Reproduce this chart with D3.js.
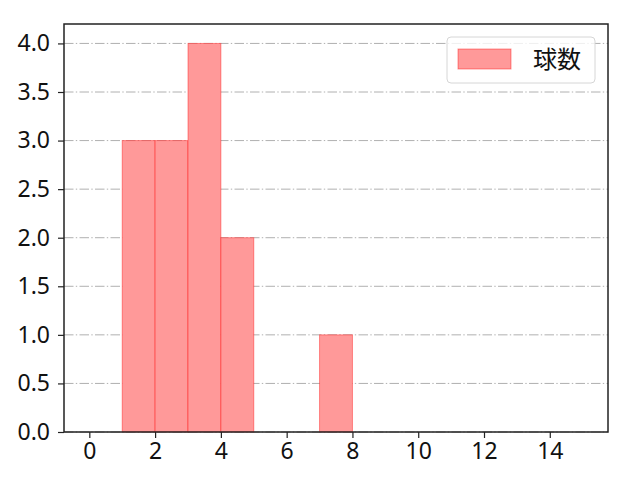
<!DOCTYPE html>
<html>
<head>
<meta charset="utf-8">
<script src="https://cdn.jsdelivr.net/npm/d3@7"></script>
<style>
  body { margin: 0; background: #fff; }
</style>
</head>
<body>
<div class="canvas"></div>
<script>
// histogram bins (left edge) and their counts
const binStarts = [1, 2, 3, 4, 7];
const counts = [3, 3, 4, 2, 1];
const binWidth = 1;
const xTicks = [0, 2, 4, 6, 8, 10, 12, 14];
const yTicks = [0, 0.5, 1.0, 1.5, 2.0, 2.5, 3.0, 3.5, 4.0];
const seriesName = '球数';

const data = binStarts.map((b, i) => ({ x0: b, x1: b + binWidth, count: counts[i] }));

const tickFont = '"Noto Sans", "DejaVu Sans", sans-serif';
const cjkFont = '"Noto Sans CJK JP", "Noto Sans", sans-serif';

const svg = d3.select('.canvas')
    .append('svg')
    .attr('width', 640)
    .attr('height', 480);

// plot area
const margins = { top: 24, right: 32, bottom: 48, left: 64 };
const graphWidth = 640 - margins.left - margins.right;
const graphHeight = 480 - margins.top - margins.bottom;

const graph = svg.append('g')
    .attr('transform', `translate(${margins.left}, ${margins.top})`);

const x = d3.scaleLinear()
    .domain([-0.77, 15.77])
    .range([0, graphWidth]);

const y = d3.scaleLinear()
    .domain([0, 4.2])
    .range([graphHeight, 0]);

// horizontal dash-dot grid
graph.append('g')
    .selectAll('line')
    .data(yTicks)
    .enter()
    .append('line')
    .attr('x1', 0)
    .attr('x2', graphWidth)
    .attr('y1', d => y(d))
    .attr('y2', d => y(d))
    .attr('stroke', '#b0b0b0')
    .attr('stroke-width', 1)
    .attr('stroke-dasharray', '9.5,2.3,1.4,2.3');

// bars
graph.selectAll('rect.bar')
    .data(data)
    .enter()
    .append('rect')
    .attr('class', 'bar')
    .attr('x', d => x(d.x0))
    .attr('y', d => y(d.count))
    .attr('width', d => x(d.x1) - x(d.x0))
    .attr('height', d => graphHeight - y(d.count))
    .attr('fill', 'rgb(255,153,153)')
    .attr('stroke', 'rgba(255,0,0,0.4)')
    .attr('stroke-width', 1);

// axes
const xAxis = d3.axisBottom(x)
    .tickValues(xTicks)
    .tickSize(6)
    .tickPadding(5)
    .tickFormat(d3.format('d'));
const yAxis = d3.axisLeft(y)
    .tickValues(yTicks)
    .tickSize(6)
    .tickPadding(8)
    .tickFormat(d3.format('.1f'));

const xAxisGroup = graph.append('g')
    .attr('transform', `translate(0, ${graphHeight})`)
    .call(xAxis);
const yAxisGroup = graph.append('g')
    .call(yAxis);

[xAxisGroup, yAxisGroup].forEach(g => {
    g.attr('font-size', 23).attr('font-family', tickFont);
    g.select('.domain').remove();
    g.selectAll('line').attr('stroke', '#222').attr('stroke-width', 1.2);
    g.selectAll('text').attr('fill', '#111');
});

// frame
graph.append('rect')
    .attr('x', 0)
    .attr('y', 0)
    .attr('width', graphWidth)
    .attr('height', graphHeight)
    .attr('fill', 'none')
    .attr('stroke', '#222')
    .attr('stroke-width', 1.5);

// legend
const legend = svg.append('g')
    .attr('transform', 'translate(447, 37)');
legend.append('rect')
    .attr('width', 148)
    .attr('height', 46)
    .attr('rx', 4)
    .attr('fill', 'white')
    .attr('fill-opacity', 0.8)
    .attr('stroke', '#d6d6d6');
legend.append('rect')
    .attr('x', 11)
    .attr('y', 12)
    .attr('width', 53)
    .attr('height', 20)
    .attr('fill', 'rgb(255,153,153)')
    .attr('stroke', 'rgba(255,0,0,0.4)');
legend.append('text')
    .attr('x', 86)
    .attr('y', 31)
    .attr('font-family', cjkFont)
    .attr('font-size', 24)
    .attr('fill', '#111')
    .text(seriesName);
</script>
</body>
</html>
